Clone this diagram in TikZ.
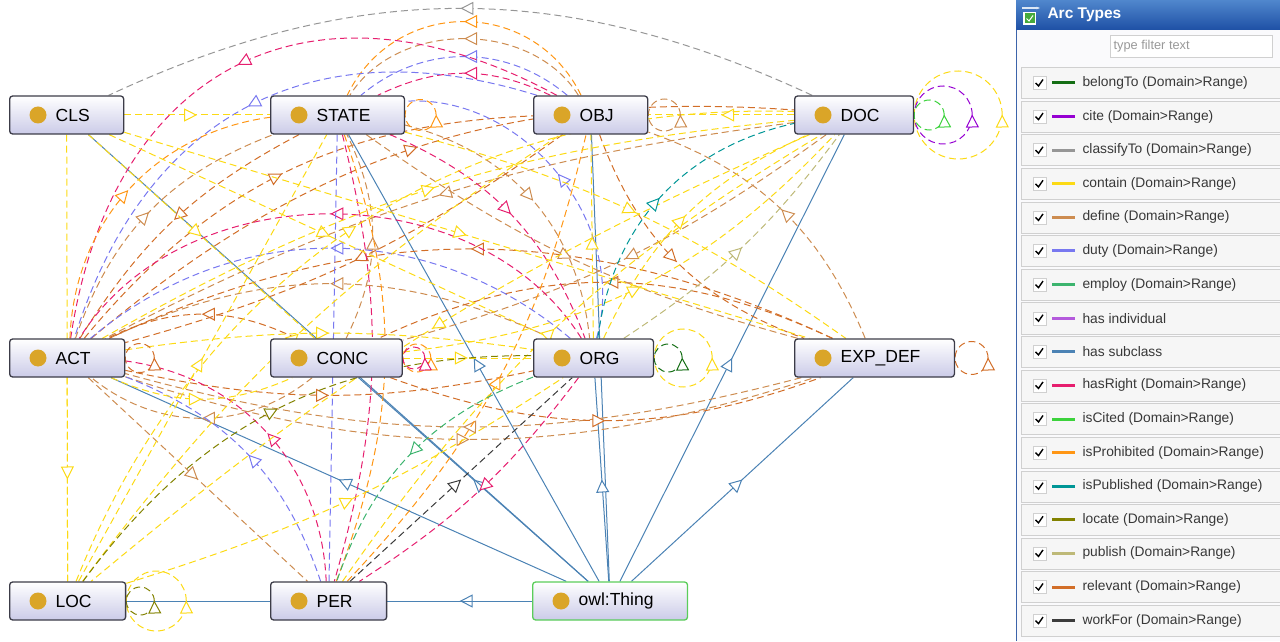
\documentclass[tikz,border=0pt]{standalone}
\usepackage{fontspec}
\setmainfont{Liberation Sans}
\usetikzlibrary{arrows.meta,decorations.markings}

\definecolor{boxline}{RGB}{60,60,72}
\definecolor{boxbot}{RGB}{203,203,232}
\definecolor{thingline}{RGB}{90,205,90}
\definecolor{dotcol}{RGB}{218,165,40}
\definecolor{belongcol}{RGB}{20,110,20}
\definecolor{citecol}{RGB}{150,0,210}
\definecolor{classcol}{RGB}{150,150,150}
\definecolor{containcol}{RGB}{252,218,20}
\definecolor{definecol}{RGB}{205,140,80}
\definecolor{dutycol}{RGB}{120,120,240}
\definecolor{employcol}{RGB}{60,180,110}
\definecolor{indivcol}{RGB}{180,90,220}
\definecolor{subcol}{RGB}{75,130,180}
\definecolor{rightcol}{RGB}{230,30,110}
\definecolor{citedcol}{RGB}{60,210,60}
\definecolor{prohibcol}{RGB}{255,150,20}
\definecolor{pubcol}{RGB}{0,150,150}
\definecolor{locatecol}{RGB}{130,130,0}
\definecolor{publishcol}{RGB}{190,185,120}
\definecolor{relevantcol}{RGB}{210,110,40}
\definecolor{workcol}{RGB}{60,60,60}
\definecolor{panelbg}{RGB}{250,250,252}
\definecolor{panelblue}{RGB}{60,100,170}
\definecolor{headtop}{RGB}{80,135,205}
\definecolor{headbot}{RGB}{30,80,165}
\definecolor{rowbg}{RGB}{246,246,246}
\definecolor{rowline}{RGB}{208,208,208}
\definecolor{icongreen}{RGB}{70,170,60}

\pgfdeclarelayer{arcs}
\pgfsetlayers{arcs,main}

\begin{document}
\begin{tikzpicture}[x=1pt, y=1pt,
    entity/.style={draw=boxline, line width=1.3pt, rounded corners=3pt,
      top color=white, bottom color=boxbot, minimum height=38pt,
      inner xsep=34pt, anchor=west, font=\fontsize{17.5}{20}\selectfont},
    rel/.style={dash pattern=on 7pt off 4pt, line width=1pt, postaction={decorate},
      decoration={markings, mark=at position .5 with {\arrow{Triangle[fill=white,length=13pt,width=13pt]}}}},
    loopArc/.style={dash pattern=on 7pt off 4pt, line width=1pt, postaction={decorate},
      decoration={markings, mark=at position 0.5pt with {\arrow{Triangle[fill=white,length=13pt,width=13pt]}}}},
    subArc/.style={rel, solid, color=subcol},
    classArc/.style={rel, color=classcol},
    containArc/.style={rel, color=containcol},
    defineArc/.style={rel, color=definecol},
    relevantArc/.style={rel, color=relevantcol},
    dutyArc/.style={rel, color=dutycol},
    rightArc/.style={rel, color=rightcol},
    prohibArc/.style={rel, color=prohibcol},
    pubArc/.style={rel, color=pubcol},
    publishArc/.style={rel, color=publishcol},
    locateArc/.style={rel, color=locatecol},
    employArc/.style={rel, color=employcol},
    workArc/.style={rel, color=workcol},
    legtext/.style={anchor=west, text=black!78, font=\fontsize{13.8}{15}\selectfont}
  ]
\useasboundingbox (0,0) rectangle (1280,641);

% classes
\node[entity] (cls) at (9,526) {\hspace*{12pt}CLS};
\node[entity] (state) at (270,526) {\hspace*{12pt}STATE};
\node[entity] (obj) at (533,526) {\hspace*{12pt}OBJ};
\node[entity] (doc) at (794,526) {\hspace*{12pt}DOC};
\node[entity] (act) at (9,283) {\hspace*{12pt}ACT};
\node[entity] (conc) at (270,283) {\hspace*{12pt}CONC};
\node[entity] (org) at (533,283) {\hspace*{12pt}ORG};
\node[entity] (expdef) at (794,283) {\hspace*{12pt}EXP\_DEF};
\node[entity] (loc) at (9,40) {\hspace*{12pt}LOC};
\node[entity] (per) at (270,40) {\hspace*{12pt}PER};
\node[entity, draw=thingline] (thing) at (532,40) {\hspace*{12pt}owl:Thing};
\foreach \n in {cls,state,obj,doc,act,conc,org,expdef,loc,per,thing}
  \fill[dotcol] ([xshift=29pt]\n.west) circle (8.5pt);

\begin{pgfonlayer}{arcs}
% has subclass
\foreach \n in {per,loc,act,conc,state,cls,obj,org,doc,expdef}
  \draw[subArc] (thing) -- (\n);
% classifyTo
\draw[classArc] (doc) to[bend right=25] (cls);
% arcs over the top
\draw[prohibArc] (obj) to[bend right=64, looseness=1.2] (state);
\draw[defineArc] (obj) to[bend right=58] (state);
\draw[dutyArc] (obj) to[bend right=40] (state);
\draw[rightArc] (obj) to[bend right=26] (state);
\draw[rightArc] (obj) to[bend right=55, looseness=1.3] (act);
\draw[dutyArc] (obj) to[bend right=45, looseness=1.15] (act);
% define, relevant
\draw[defineArc] (act) to[bend left=25] (state);
\draw[relevantArc] (act) to[bend left=24] (obj);
\draw[relevantArc] (act) to[bend left=22] (doc);
\draw[defineArc] (org) to[bend right=25] (act);
\draw[relevantArc] (conc) to[bend right=26] (act);
\draw[defineArc] (conc) to[bend left=39] (act);
\draw[defineArc] (doc) to[bend right=10] (act);
\draw[relevantArc] (expdef) to[bend right=25] (act);
\draw[defineArc] (expdef) to[bend left=15] (act);
\draw[relevantArc] (conc) to[bend right=20] (expdef);
\draw[defineArc] (conc) to[bend right=26] (state);
\draw[defineArc] (state) to[bend left=35] (org);
\draw[relevantArc] (expdef) to[bend right=25] (conc);
\draw[defineArc] (expdef) to[bend right=24] (obj);
\draw[relevantArc] (obj) to[bend right=25] (expdef);
\draw[defineArc] (state) to[bend right=10] (expdef);
\draw[defineArc] (act) -- (per);
\draw[relevantArc] (state) to[bend right=15] (act);
\draw[defineArc] (doc) to[bend left=10] (conc);
\draw[relevantArc] (obj) to[bend left=10] (act);
\draw[relevantArc] (act) to[bend right=12] (org);
\draw[defineArc] (act) to[bend right=18] (expdef);
% isProhibited
\draw[prohibArc] (per) to[bend right=20] (state);
\draw[prohibArc] (act) to[bend left=40] (state);
\draw[prohibArc] (per) to[bend right=15] (obj);
% hasRight
\draw[rightArc] (org) to[bend right=58] (act);
\draw[rightArc] (state) to[bend left=23] (org);
\draw[rightArc] (per) to[bend right=40] (act);
\draw[rightArc] (state) to[bend left=15] (per);
\draw[rightArc] (org) to[bend left=10] (per);
% duty
\draw[dutyArc] (org) to[bend right=40] (act);
\draw[dutyArc] (org) to[bend right=55] (state);
\draw[dutyArc] (per) to[bend right=25] (act);
\draw[dutyArc] (state) -- (per);
% contain
\draw[containArc] (cls) -- (state);
\draw[containArc] (doc) -- (obj);
\draw[containArc] (cls) -- (conc);
\draw[containArc] (cls) -- (org);
\draw[containArc] (cls) -- (expdef);
\draw[containArc] (cls) -- (loc);
\draw[containArc] (act) -- (loc);
\draw[containArc] (act) to[bend right=24] (conc);
\draw[containArc] (conc) -- (org);
\draw[containArc] (org) -- (obj);
\draw[containArc] (org) to[bend left=20] (doc);
\draw[containArc] (act) to[bend left=12] (doc);
\draw[containArc] (loc) to[bend left=35] (doc);
\draw[containArc] (loc) -- (state);
\draw[containArc] (loc) to[bend left=10] (obj);
\draw[containArc] (loc) to[bend right=8] (org);
\draw[containArc] (doc) to[bend right=8] (loc);
\draw[containArc] (state) to[bend left=10] (expdef);
\draw[containArc] (conc) to[bend right=20] (doc);
\draw[containArc] (act) to[bend left=8] (org);
\draw[containArc] (per) to[bend left=12] (doc);
% the rest
\draw[employArc] (org) to[bend right=25] (per);
\draw[workArc] (per) -- (org);
\draw[locateArc] (loc) to[bend left=27] (org);
\draw[publishArc] (org) to[bend right=10] (doc);
\draw[pubArc] (org) to[bend left=35] (doc);
% self loops
\draw[loopArc, color=prohibcol] ([xshift=15.5pt]state.east) circle (15.5pt);
\draw[loopArc, color=definecol] ([xshift=16pt]obj.east) circle (16pt);
\draw[loopArc, color=containcol] ([xshift=44pt]doc.east) circle (44pt);
\draw[loopArc, color=citecol] ([xshift=29pt]doc.east) circle (29pt);
\draw[loopArc, color=citedcol] ([xshift=15pt]doc.east) circle (15pt);
\draw[loopArc, color=relevantcol] ([xshift=14.5pt]act.east) circle (14.5pt);
\draw[loopArc, color=prohibcol] ([xshift=14pt]conc.east) circle (14pt);
\draw[loopArc, color=rightcol] ([xshift=11pt]conc.east) circle (11pt);
\draw[loopArc, color=containcol] ([xshift=29pt]org.east) circle (29pt);
\draw[loopArc, color=belongcol] ([xshift=14pt]org.east) circle (14pt);
\draw[loopArc, color=relevantcol] ([xshift=16.5pt]expdef.east) circle (16.5pt);
\draw[loopArc, color=containcol] ([xshift=30pt]loc.east) circle (30pt);
\draw[loopArc, color=locatecol] ([xshift=14pt]loc.east) circle (14pt);
\end{pgfonlayer}

% arc types panel
\fill[panelbg] (1016,0) rectangle (1280,641);
\draw[panelblue, line width=1.5pt] (1016.5,0) -- (1016.5,641);
\shade[top color=headtop, bottom color=headbot] (1016,611) rectangle (1280,641);
\fill[white] (1023,616) rectangle (1036,629);
\fill[icongreen] (1024.5,617.5) rectangle (1034.5,627.5);
\draw[white, line width=1pt] (1026.5,622.5) -- (1029,620) -- (1033,625.5);
\draw[white!80!headtop, line width=1.2pt, -{Stealth[length=3.5pt]}] (1022,633) -- (1040,633);
\node[anchor=west, text=white, font=\bfseries\fontsize{15.5}{18}\selectfont] (title) at (1044,626) {Arc Types};
\draw[rowline, fill=white] (1110,584) rectangle (1272,606);
\node[anchor=west, text=black!40, font=\fontsize{12.8}{15}\selectfont] (filter) at (1110,595) {type filter text};
\foreach \lab/\col [count=\i from 0] in {belongTo (Domain>Range)/belongcol, cite (Domain>Range)/citecol,
    classifyTo (Domain>Range)/classcol, contain (Domain>Range)/containcol, define (Domain>Range)/definecol,
    duty (Domain>Range)/dutycol, employ (Domain>Range)/employcol, has individual/indivcol,
    has subclass/subcol, hasRight (Domain>Range)/rightcol, isCited (Domain>Range)/citedcol,
    isProhibited (Domain>Range)/prohibcol, isPublished (Domain>Range)/pubcol, locate (Domain>Range)/locatecol,
    publish (Domain>Range)/publishcol, relevant (Domain>Range)/relevantcol, workFor (Domain>Range)/workcol} {
  \pgfmathsetmacro\ry{558-33.6*\i}
  \draw[rowline, fill=rowbg] (1021,\ry-15.5) rectangle (1284,\ry+15.5);
  \draw[rowline, fill=white] (1033,\ry-6.5) rectangle (1046,\ry+6.5);
  \draw[line width=1.4pt] (1035.5,\ry) -- (1038.5,\ry-3) -- (1043,\ry+3.5);
  \draw[\col, line width=3pt] (1052,\ry) -- (1075,\ry);
  \node[legtext] (lab\i) at (1079,\ry) {\lab};
}
\end{tikzpicture}
\end{document}
